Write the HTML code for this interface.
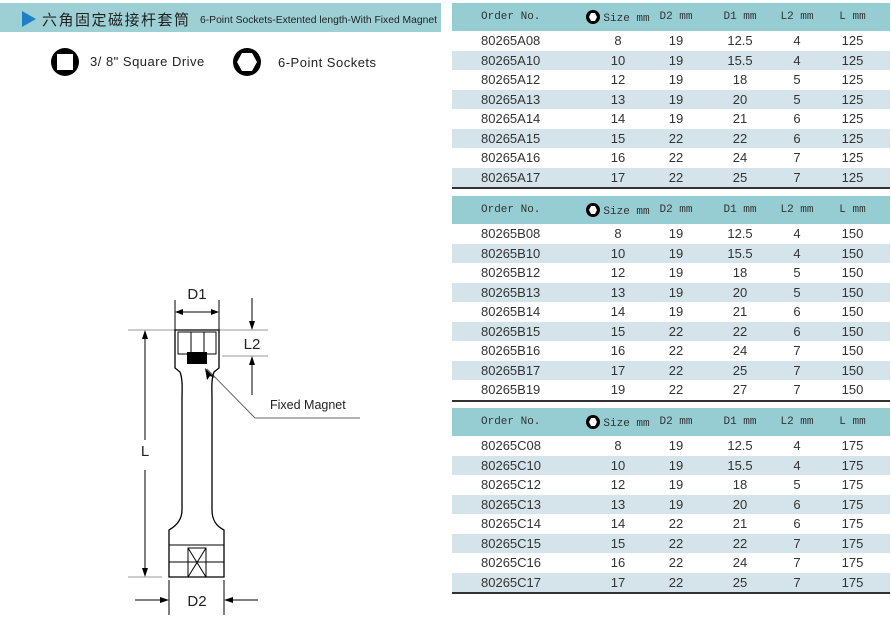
<!DOCTYPE html>
<html><head><meta charset="utf-8">
<style>
body{margin:0;width:891px;height:632px;background:#fff;position:relative;overflow:hidden;font-family:"Liberation Sans","Noto Sans CJK SC",sans-serif;}
.bar{position:absolute;left:0;top:3px;width:441px;height:29px;background:#9dd0d5;}
.t{position:absolute;left:452px;width:438px;border-collapse:collapse;table-layout:fixed;font-family:"Liberation Sans",sans-serif;font-size:13px;color:#333;}
.t td{height:19.5px;padding:0;text-align:center;white-space:nowrap;}
.t td:first-child{text-align:left;padding-left:29px;}
.t tr.h td{height:28px;background:#95cdd3;color:#333;font-family:"Liberation Mono",monospace;font-size:11px;}
.t tr.a td{background:#d4e4ea;}
.t{border-bottom:2px solid #333;}
.hx{display:inline-block;vertical-align:-3px;margin-right:3px}
</style></head><body>
<div class="bar"></div>
<svg style="position:absolute;left:0;top:0" width="450" height="632">
<polygon points="22,11 22,27 36,19" fill="#1f7fc6"/>
<text x="42" y="25" font-size="15" font-family="Noto Sans CJK SC,sans-serif" fill="#222" letter-spacing="1.5">六角固定磁接杆套筒</text>
<text x="200" y="23" font-size="10.5" fill="#222" textLength="237" lengthAdjust="spacingAndGlyphs">6-Point Sockets-Extented length-With Fixed Magnet</text>
<circle cx="65" cy="62" r="14" fill="#000"/>
<rect x="57" y="54" width="16" height="16" fill="#fff"/>
<text x="90" y="66" font-size="13" fill="#222" letter-spacing="0.5">3/ 8"  Square Drive</text>
<circle cx="247" cy="62" r="14" fill="#000"/>
<polygon points="242,53 252,53 257,62 252,71 242,71 237,62" fill="#fff"/>
<text x="278" y="67" font-size="13" fill="#222" letter-spacing="0.5">6-Point Sockets</text>
<g stroke="#000" stroke-width="1" fill="none">
<line x1="175" y1="300" x2="175" y2="330"/><line x1="219" y1="300" x2="219" y2="330"/>
<line x1="177" y1="312" x2="217" y2="312"/>
<line x1="128" y1="330" x2="268" y2="330" stroke="#999"/>
<line x1="222" y1="356" x2="268" y2="356" stroke="#999"/>
<line x1="252" y1="298" x2="252" y2="328"/><line x1="252" y1="358" x2="252" y2="395"/>
<line x1="145" y1="332" x2="145" y2="440"/><line x1="145" y1="470" x2="145" y2="575"/>
<line x1="128" y1="577" x2="162" y2="577" stroke="#999"/>
<line x1="169" y1="580" x2="169" y2="615"/><line x1="224" y1="580" x2="224" y2="615"/>
<line x1="135" y1="600" x2="167" y2="600"/><line x1="226" y1="600" x2="258" y2="600"/>
<line x1="207" y1="369" x2="255" y2="418" stroke="#666"/><line x1="255" y1="418" x2="360" y2="418" stroke="#666"/>
<path d="M175,330 H219 V368 L214,372 C211,380 212,390 212,400 V510 C212,520 216,526 224,530 V577 H169 V530 C176,526 182,520 182,510 V400 C182,390 183,380 180,372 L175,368 Z" stroke-width="1.3"/>
<rect x="178" y="332" width="38" height="22"/>
<line x1="191" y1="332" x2="191" y2="354"/><line x1="204" y1="332" x2="204" y2="354"/>
<line x1="169" y1="545" x2="224" y2="545"/><line x1="169" y1="562" x2="224" y2="562"/>
<rect x="188" y="548" width="18" height="29"/>
<line x1="188" y1="548" x2="206" y2="577"/><line x1="206" y1="548" x2="188" y2="577"/>
</g>
<rect x="187" y="352" width="20" height="12" fill="#000"/>
<g fill="#000">
<polygon points="175,312 183,309 183,315"/><polygon points="219,312 211,309 211,315"/>
<polygon points="252,330 249,321 255,321"/><polygon points="252,356 249,365 255,365"/>
<polygon points="145,330 142,339 148,339"/><polygon points="145,577 142,568 148,568"/>
<polygon points="169,600 160,597 160,603"/><polygon points="224,600 233,597 233,603"/>
<polygon points="205,368 207,380 210,376 215,378"/>
</g>
<g font-size="15" fill="#222" text-anchor="middle">
<text x="197" y="299">D1</text><text x="252" y="349">L2</text>
<text x="145" y="456">L</text><text x="197" y="606">D2</text>
</g>
<text x="270" y="409" font-size="12.5" fill="#222">Fixed Magnet</text>
</svg>

<table class="t" style="top:3px">
<colgroup><col style="width:133px"><col style="width:66px"><col style="width:50px"><col style="width:78px"><col style="width:36px"><col></colgroup>
<tr class="h"><td>Order No.</td><td><svg class="hx" width="14" height="14"><circle cx="7" cy="7" r="7" fill="#000"/><polygon points="5,3 9,3 11,7 9,11 5,11 3,7" fill="#fff"/></svg>Size mm</td><td>D2 mm</td><td>D1 mm</td><td>L2 mm</td><td>L mm</td></tr>
<tr><td>80265A08</td><td>8</td><td>19</td><td>12.5</td><td>4</td><td>125</td></tr>
<tr class="a"><td>80265A10</td><td>10</td><td>19</td><td>15.5</td><td>4</td><td>125</td></tr>
<tr><td>80265A12</td><td>12</td><td>19</td><td>18</td><td>5</td><td>125</td></tr>
<tr class="a"><td>80265A13</td><td>13</td><td>19</td><td>20</td><td>5</td><td>125</td></tr>
<tr><td>80265A14</td><td>14</td><td>19</td><td>21</td><td>6</td><td>125</td></tr>
<tr class="a"><td>80265A15</td><td>15</td><td>22</td><td>22</td><td>6</td><td>125</td></tr>
<tr><td>80265A16</td><td>16</td><td>22</td><td>24</td><td>7</td><td>125</td></tr>
<tr class="a"><td>80265A17</td><td>17</td><td>22</td><td>25</td><td>7</td><td>125</td></tr>
</table>
<table class="t" style="top:196px">
<colgroup><col style="width:133px"><col style="width:66px"><col style="width:50px"><col style="width:78px"><col style="width:36px"><col></colgroup>
<tr class="h"><td>Order No.</td><td><svg class="hx" width="14" height="14"><circle cx="7" cy="7" r="7" fill="#000"/><polygon points="5,3 9,3 11,7 9,11 5,11 3,7" fill="#fff"/></svg>Size mm</td><td>D2 mm</td><td>D1 mm</td><td>L2 mm</td><td>L mm</td></tr>
<tr><td>80265B08</td><td>8</td><td>19</td><td>12.5</td><td>4</td><td>150</td></tr>
<tr class="a"><td>80265B10</td><td>10</td><td>19</td><td>15.5</td><td>4</td><td>150</td></tr>
<tr><td>80265B12</td><td>12</td><td>19</td><td>18</td><td>5</td><td>150</td></tr>
<tr class="a"><td>80265B13</td><td>13</td><td>19</td><td>20</td><td>5</td><td>150</td></tr>
<tr><td>80265B14</td><td>14</td><td>19</td><td>21</td><td>6</td><td>150</td></tr>
<tr class="a"><td>80265B15</td><td>15</td><td>22</td><td>22</td><td>6</td><td>150</td></tr>
<tr><td>80265B16</td><td>16</td><td>22</td><td>24</td><td>7</td><td>150</td></tr>
<tr class="a"><td>80265B17</td><td>17</td><td>22</td><td>25</td><td>7</td><td>150</td></tr>
<tr><td>80265B19</td><td>19</td><td>22</td><td>27</td><td>7</td><td>150</td></tr>
</table>
<table class="t" style="top:408px">
<colgroup><col style="width:133px"><col style="width:66px"><col style="width:50px"><col style="width:78px"><col style="width:36px"><col></colgroup>
<tr class="h"><td>Order No.</td><td><svg class="hx" width="14" height="14"><circle cx="7" cy="7" r="7" fill="#000"/><polygon points="5,3 9,3 11,7 9,11 5,11 3,7" fill="#fff"/></svg>Size mm</td><td>D2 mm</td><td>D1 mm</td><td>L2 mm</td><td>L mm</td></tr>
<tr><td>80265C08</td><td>8</td><td>19</td><td>12.5</td><td>4</td><td>175</td></tr>
<tr class="a"><td>80265C10</td><td>10</td><td>19</td><td>15.5</td><td>4</td><td>175</td></tr>
<tr><td>80265C12</td><td>12</td><td>19</td><td>18</td><td>5</td><td>175</td></tr>
<tr class="a"><td>80265C13</td><td>13</td><td>19</td><td>20</td><td>6</td><td>175</td></tr>
<tr><td>80265C14</td><td>14</td><td>22</td><td>21</td><td>6</td><td>175</td></tr>
<tr class="a"><td>80265C15</td><td>15</td><td>22</td><td>22</td><td>7</td><td>175</td></tr>
<tr><td>80265C16</td><td>16</td><td>22</td><td>24</td><td>7</td><td>175</td></tr>
<tr class="a"><td>80265C17</td><td>17</td><td>22</td><td>25</td><td>7</td><td>175</td></tr>
</table>
</body></html>
